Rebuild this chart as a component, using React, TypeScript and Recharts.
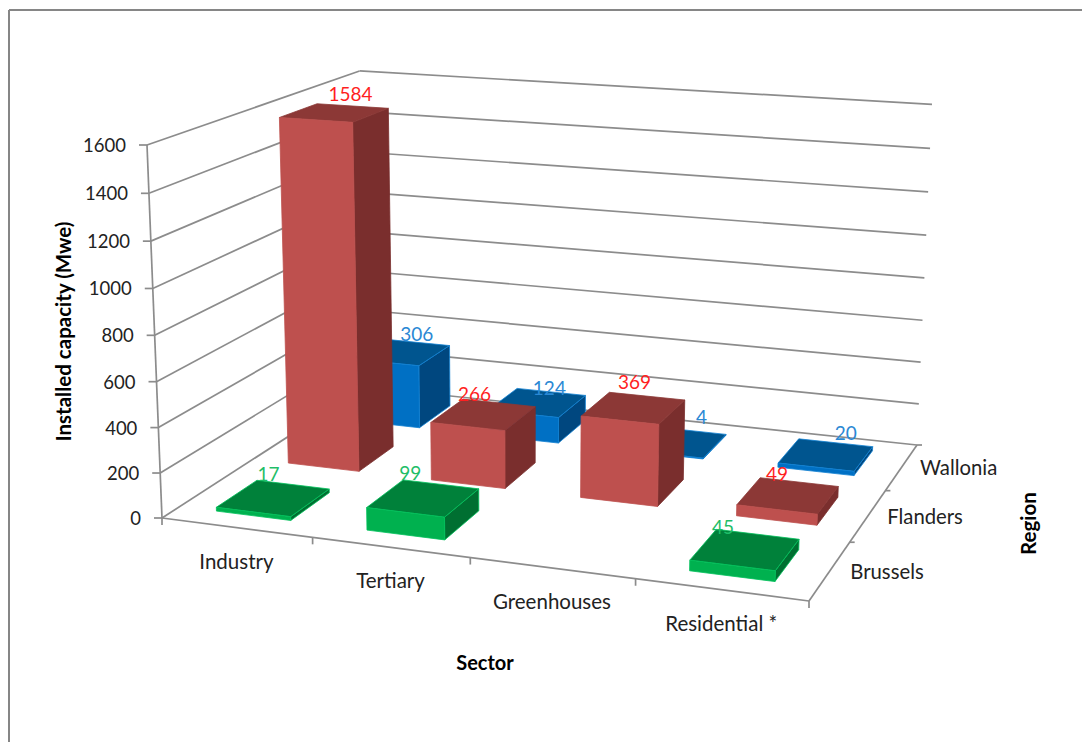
import React from 'react';
import { BarChart, Bar, XAxis, YAxis, LabelList, Customized } from 'recharts';

const sectors = ['Industry', 'Tertiary', 'Greenhouses', 'Residential *'];
const regions = ['Brussels', 'Flanders', 'Wallonia'];
const brussels = [17, 99, null, 45];
const flanders = [1584, 266, 369, 49];
const wallonia = [306, 124, 4, 20];
const yTicks = [0, 200, 400, 600, 800, 1000, 1200, 1400, 1600];

const seriesByRegion = [brussels, flanders, wallonia];

const WIDTH = 1082;
const HEIGHT = 742;
const Y_MAX = 1600;
const FONT = 'Lato, "Open Sans", sans-serif';
const AXIS_GREY = '#8c8c8c';
const TEXT = '#222222';

const rows = sectors.map((sector, i) => ({
  sector,
  Brussels: brussels[i],
  Flanders: flanders[i],
  Wallonia: wallonia[i],
}));

// Screen corners of the chart box: floor first, then the wall tops used for the vertical column
const floor = [
  [162, 518],
  [809, 601],
  [917, 445],
  [365, 387],
];
const wallTopFront = [147, 145];
const wallTopRight = [932, 104.5];

// Unit square -> floor quad homography
const buildCamera = () => {
  const [[x0, y0], [x1, y1], [x2, y2], [x3, y3]] = floor;
  const dx1 = x1 - x2;
  const dx2 = x3 - x2;
  const sx = x0 - x1 + x2 - x3;
  const dy1 = y1 - y2;
  const dy2 = y3 - y2;
  const sy = y0 - y1 + y2 - y3;
  const den = dx1 * dy2 - dx2 * dy1;
  const g = (sx * dy2 - dx2 * sy) / den;
  const h = (dx1 * sy - sx * dy1) / den;
  const a = x1 - x0 + g * x1;
  const b = x3 - x0 + h * x3;
  const d = y1 - y0 + g * y1;
  const e = y3 - y0 + h * y3;
  // vertical column, solved from the two wall top corners
  const wG = g + h + 1;
  const q3 =
    ((wallTopRight[0] - x2) * wG - (wallTopFront[0] - x0)) / (wallTopFront[0] - wallTopRight[0]);
  const q1 = wallTopFront[0] * q3 + (wallTopFront[0] - x0);
  const q2 = wallTopFront[1] * q3 + (wallTopFront[1] - y0);
  return { a, b, c: x0, d, e, f: y0, g, h, q1, q2, q3 };
};

const cam = buildCamera();

// u: along sectors, v: along regions, w: height, all 0..1
const project = (u: number, v: number, w: number): [number, number] => {
  const n = cam.g * u + cam.h * v + cam.q3 * w + 1;
  return [
    (cam.a * u + cam.b * v + cam.q1 * w + cam.c) / n,
    (cam.d * u + cam.e * v + cam.q2 * w + cam.f) / n,
  ];
};

const toPoints = (pts: [number, number][]) => pts.map((p) => p.join(',')).join(' ');

const BAR_DEPTH = 0.55; // share of a region's band

const regionSpan = (region: number) => {
  const band = 1 / regions.length;
  const mid = (region + 0.5) * band;
  return [mid - (band * BAR_DEPTH) / 2, mid + (band * BAR_DEPTH) / 2];
};

const palette = [
  { front: '#00B14F', top: '#00813A', side: '#006F31', edge: '#00C05A', label: '#1FBE68' },
  { front: '#BE504E', top: '#8C3836', side: '#7A2E2D', edge: null, label: '#FF1F1F' },
  { front: '#0070C4', top: '#00558F', side: '#00477F', edge: '#1080D2', label: '#2A88D4' },
];

// Nudges for the data labels, relative to the centre of each bar's top face
const labelNudge = [
  [[-5, -25], [-13, -26], [0, 0], [-22, -23]],
  [[16, -19], [-9, -21], [1, -26], [-11, -22]],
  [[16, -19], [12, -15], [23, -26], [20, -22]],
];

// Draws one bar as a cuboid from the rectangle the bar series hands over
const cuboidShape = (region: number) => (props: any) => {
  const { x, y, width, height } = props;
  if (height == null || height <= 0) return null;
  const u0 = x / WIDTH;
  const u1 = (x + width) / WIDTH;
  const w = (HEIGHT - y) / HEIGHT;
  const [v0, v1] = regionSpan(region);
  const c = palette[region];
  const face = (pts: [number, number, number][], fill: string) => (
    <polygon
      points={toPoints(pts.map((p) => project(p[0], p[1], p[2])))}
      fill={fill}
      stroke={c.edge ?? fill}
      strokeWidth={0.8}
      strokeLinejoin="round"
    />
  );
  return (
    <g>
      {face([[u1, v0, 0], [u1, v1, 0], [u1, v1, w], [u1, v0, w]], c.side)}
      {face([[u0, v0, w], [u1, v0, w], [u1, v1, w], [u0, v1, w]], c.top)}
      {face([[u0, v0, 0], [u1, v0, 0], [u1, v0, w], [u0, v0, w]], c.front)}
    </g>
  );
};

const valueLabel = (region: number) => (props: any) => {
  const { x, y, width, value } = props;
  if (value == null) return null;
  const [v0, v1] = regionSpan(region);
  const [px, py] = project((x + width / 2) / WIDTH, (v0 + v1) / 2, (HEIGHT - y) / HEIGHT);
  // null rows are skipped by the label list, so look the sector up by value
  const [dx, dy] = labelNudge[region][seriesByRegion[region].indexOf(value)];
  return (
    <text
      x={px + dx}
      y={py + dy}
      textAnchor="middle"
      dominantBaseline="central"
      fontFamily={FONT}
      fontSize={19}
      fill={palette[region].label}
    >
      {value}
    </text>
  );
};

const SectorTick = ({ x, payload }: any) => {
  const [lx, ly] = project(x / WIDTH, 0, 0);
  return (
    <text x={lx} y={ly + 33} textAnchor="middle" dominantBaseline="central" fontFamily={FONT} fontSize={20.5} fill={TEXT}>
      {payload.value}
    </text>
  );
};

const ValueTick = ({ y, payload }: any) => {
  const [ax, ay] = project(0, 0, (HEIGHT - y) / HEIGHT);
  return (
    <g>
      <line x1={ax - 8} y1={ay} x2={ax} y2={ay} stroke={AXIS_GREY} strokeWidth={1.7} />
      <text x={ax - 21} y={ay} textAnchor="end" dominantBaseline="central" fontFamily={FONT} fontSize={18.5} fill={TEXT}>
        {payload.value}
      </text>
    </g>
  );
};

// Frame, wall grid, floor edges, region labels and axis titles
const ChartBox = () => {
  const seg = (a: [number, number], b: [number, number], key: string) => (
    <line key={key} x1={a[0]} y1={a[1]} x2={b[0]} y2={b[1]} stroke={AXIS_GREY} strokeWidth={1.7} />
  );
  const origin = project(0, 0, 0);
  return (
    <g>
      <line x1={9} y1={10} x2={WIDTH} y2={10} stroke="#868686" strokeWidth={2} />
      <line x1={9} y1={10} x2={9} y2={HEIGHT} stroke="#868686" strokeWidth={2} />
      {yTicks.map((t) => {
        const w = t / Y_MAX;
        return (
          <g key={t}>
            {seg(project(0, 0, w), project(0, 1, w), `l${t}`)}
            {seg(project(0, 1, w), project(1, 1, w), `b${t}`)}
          </g>
        );
      })}
      {seg(origin, project(0, 0, 1), 'yAxis')}
      {seg(origin, project(1, 0, 0), 'xAxis')}
      {seg(project(1, 0, 0), project(1, 1, 0), 'zAxis')}
      {seg(origin, [origin[0], origin[1] + 7], 'xt')}
      {sectors.map((_, i) => {
        const p = project((i + 1) / sectors.length, 0, 0);
        return seg(p, [p[0], p[1] + 7], `xt${i}`);
      })}
      {regions.map((name, j) => {
        const [ex, ey] = project(1, (j + 0.5) / regions.length, 0);
        const tick = project(1, (j + 1) / regions.length, 0);
        return (
          <g key={name}>
            {seg(tick, [tick[0] + 5, tick[1]], `zt${j}`)}
            <text x={ex + 57} y={ey} textAnchor="middle" dominantBaseline="central" fontFamily={FONT} fontSize={20.3} fill={TEXT}>
              {name}
            </text>
          </g>
        );
      })}
      <text
        transform="translate(63 331.5) rotate(-90)"
        textAnchor="middle"
        dominantBaseline="central"
        fontFamily={FONT}
        fontSize={20.5}
        fontWeight={700}
        fill="#000000"
      >
        Installed capacity (Mwe)
      </text>
      <text x={485} y={662} textAnchor="middle" dominantBaseline="central" fontFamily={FONT} fontSize={20} fontWeight={700} fill="#000000">
        Sector
      </text>
      <text
        transform="translate(1028 523.5) rotate(-90)"
        textAnchor="middle"
        dominantBaseline="central"
        fontFamily={FONT}
        fontSize={20.5}
        fontWeight={700}
        fill="#000000"
      >
        Region
      </text>
    </g>
  );
};

const App: React.FC = () => (
  <div style={{ position: 'absolute', left: 0, top: 0, width: WIDTH, height: HEIGHT, background: '#ffffff' }}>
    <BarChart
      width={WIDTH}
      height={HEIGHT}
      data={rows}
      margin={{ top: 0, right: 0, bottom: -1, left: -1 }}
      barCategoryGap="25%"
    >
      <Customized component={ChartBox} />
      <XAxis xAxisId="Wallonia" dataKey="sector" hide />
      <XAxis xAxisId="Flanders" dataKey="sector" hide />
      <XAxis
        xAxisId="Brussels"
        dataKey="sector"
        height={1}
        axisLine={false}
        tickLine={false}
        interval={0}
        tick={<SectorTick />}
      />
      <YAxis
        width={1}
        domain={[0, Y_MAX]}
        ticks={yTicks}
        interval={0}
        axisLine={false}
        tickLine={false}
        tick={<ValueTick />}
      />
      <Bar xAxisId="Wallonia" dataKey="Wallonia" isAnimationActive={false} shape={cuboidShape(2)}>
        <LabelList dataKey="Wallonia" content={valueLabel(2)} />
      </Bar>
      <Bar xAxisId="Flanders" dataKey="Flanders" isAnimationActive={false} shape={cuboidShape(1)}>
        <LabelList dataKey="Flanders" content={valueLabel(1)} />
      </Bar>
      <Bar xAxisId="Brussels" dataKey="Brussels" isAnimationActive={false} shape={cuboidShape(0)}>
        <LabelList dataKey="Brussels" content={valueLabel(0)} />
      </Bar>
    </BarChart>
  </div>
);

export default App;
